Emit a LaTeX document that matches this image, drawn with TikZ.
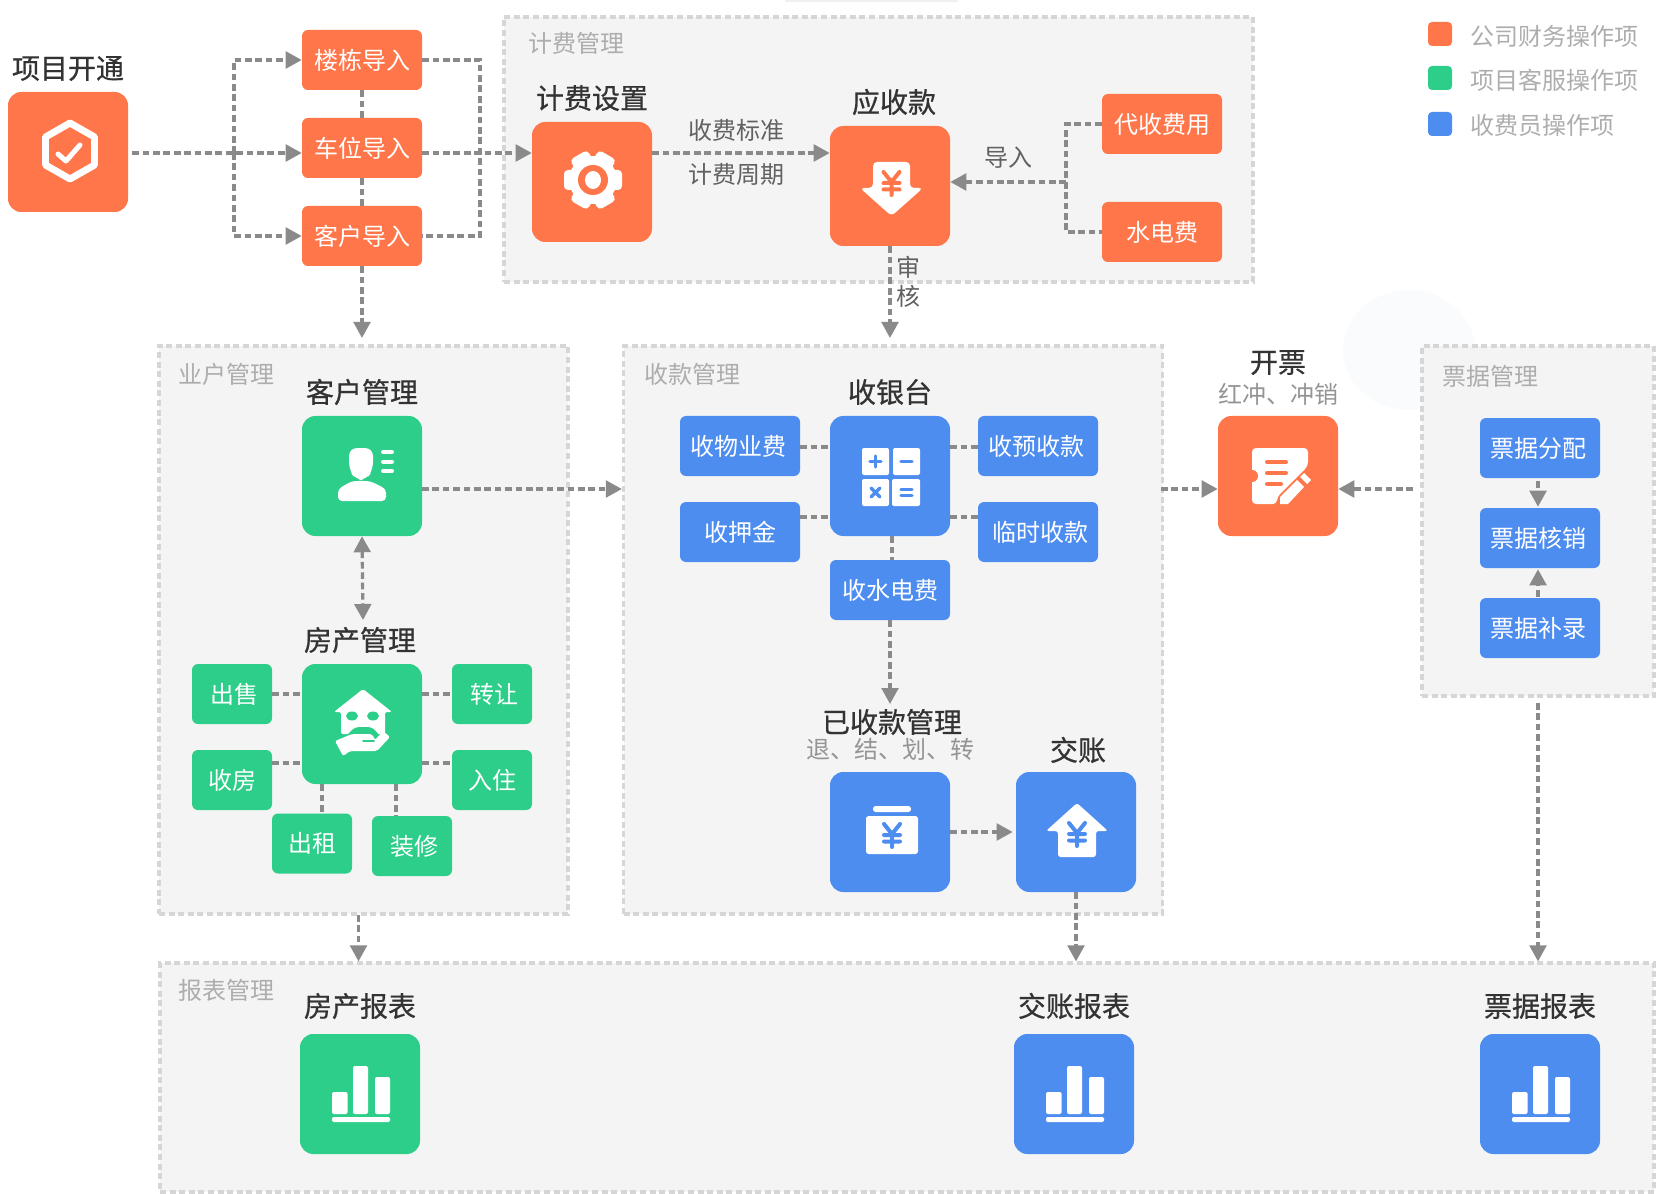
\documentclass[tikz,border=0pt]{standalone}
\usepackage{fontspec}
\usepackage{xcolor}
\usetikzlibrary{arrows.meta, positioning, calc}
\setmainfont{Noto Sans CJK SC}
\newfontfamily\titlefont[FakeBold=0.6]{Noto Sans CJK SC}
\definecolor{boxOrange}{HTML}{FF764A}
\definecolor{boxGreen}{HTML}{2DCE89}
\definecolor{boxBlue}{HTML}{4E8DF0}
\definecolor{lineGrey}{HTML}{8A8A8A}
\definecolor{groupLine}{HTML}{D6D6D6}
\definecolor{groupFill}{HTML}{F4F4F4}
\definecolor{titleDark}{HTML}{333333}
\definecolor{faintBlue}{HTML}{FAFBFD}
\newcommand{\toleft}{\hspace*{-3pt}}

\tikzset{
    yenmark/.pic={
        \draw[line width=3pt, line cap=round, line join=round, pic actions]
            (-8,-11) -- (0,-1) -- (8,-11) (-8,0) -- (8,0) (-8,6.5) -- (8,6.5) (0,-1) -- (0,12);
    },
    barmark/.pic={
        \fill[white, rounded corners=1.5pt] (-28,-2) rectangle (-12.4,20);
        \fill[white, rounded corners=1.5pt] (-7,-28) rectangle (8,20);
        \fill[white, rounded corners=1.5pt] (15,-17) rectangle (30,20);
        \fill[white, rounded corners=1pt] (-28,23) rectangle (30,28);
    }
}

\begin{document}
\begin{tikzpicture}[
        x=0.75pt, y=-0.75pt,
        cjkfont/.style={font=\fontsize{18}{20}\selectfont, text height=15.84pt, text depth=2.16pt, inner sep=0pt},
        bigbox/.style={rectangle, rounded corners=10pt, fill=#1, minimum width=90pt, minimum height=90pt, inner sep=0pt},
        midbox/.style={cjkfont, rectangle, rounded corners=4.5pt, fill=#1, text=white, minimum width=90pt, minimum height=45pt},
        lowbox/.style={cjkfont, rectangle, rounded corners=4.5pt, fill=boxGreen, text=white, minimum width=60pt, minimum height=45pt},
        swatch/.style={rectangle, rounded corners=3pt, fill=#1, minimum width=18pt, minimum height=18pt, inner sep=0pt},
        title/.style={font=\titlefont\fontsize{21}{23}\selectfont, text=titleDark, text height=18.48pt, text depth=2.52pt, inner sep=0pt},
        grouptext/.style={cjkfont, text=black!32},
        greytext/.style={cjkfont, text=black!62},
        subtext/.style={cjkfont, text=black!42},
        groupbox/.style 2 args={rectangle, draw=groupLine, fill=groupFill, line width=2.4pt, dash pattern=on 4.5pt off 2.7pt, minimum width=#1*0.75pt, minimum height=#2*0.75pt, inner sep=0pt},
        dashline/.style={draw=lineGrey, line width=2.4pt, dash pattern=on 5pt off 2.8pt},
        arrow/.style={dashline, -{Triangle[length=12pt, width=12.5pt]}},
        bothway/.style={dashline, {Triangle[length=12pt, width=12.5pt]}-{Triangle[length=12pt, width=12.5pt]}}
    ]
        \useasboundingbox (0,0) rectangle (1656,1194);

        % --- Background marks ---
        \fill[black!6] (785,0) rectangle (958,2);
        \fill[faintBlue] (1409,350) ellipse (66 and 60);

        % --- Groups ---
        \node[groupbox={749}{265}] (jiFeiGrp) at (878.5,149.5) {};
        \node[groupbox={409}{568}] (yeHuGrp) at (363.5,630) {};
        \node[groupbox={539}{568}] (shouKuanGrp) at (893,630) {};
        \node[groupbox={232}{350}] (piaoJuGrp) at (1538,521) {};
        \node[groupbox={1494}{229}] (baoBiaoGrp) at (907,1077.5) {};
        \node[grouptext] (jiFeiTxt) at (576,43) {计费管理};
        \node[grouptext] (yeHuTxt) at (226,374) {业户管理};
        \node[grouptext] (shouKuanTxt) at (692,374) {收款管理};
        \node[grouptext] (piaoJuTxt) at (1490,376) {票据管理};
        \node[grouptext] (baoBiaoTxt) at (226,990) {报表管理};

        % --- Legend ---
        \node[swatch=boxOrange] (lgA) at (1440,34) {};
        \node[swatch=boxGreen] (lgB) at (1440,78) {};
        \node[swatch=boxBlue] (lgC) at (1440,124) {};
        \node[grouptext, anchor=west] (lgAt) at (1470,36) {公司财务操作项};
        \node[grouptext, anchor=west] (lgBt) at (1470,80) {项目客服操作项};
        \node[grouptext, anchor=west] (lgCt) at (1470,125) {收费员操作项};

        % --- Project start and imports ---
        \node[title] (xiangMuT) at (68,68) {项目开通};
        \node[bigbox=boxOrange] (xiangMu) at (68,152) {};
        \node[midbox=boxOrange] (louDong) at (362,60) {楼栋导入};
        \node[midbox=boxOrange] (cheWei) at (362,148) {车位导入};
        \node[midbox=boxOrange] (keDao) at (362,236) {客户导入};

        % --- Billing ---
        \node[title] (jiFeiT) at (592,98) {计费设置};
        \node[bigbox=boxOrange] (jiFei) at (592,182) {};
        \node[title] (yingShouT) at (894,102) {应收款};
        \node[bigbox=boxOrange] (yingShou) at (890,186) {};
        \node[midbox=boxOrange] (daiShou) at (1162,124) {代收费用};
        \node[midbox=boxOrange] (shuiDian) at (1162,232) {水电费};
        \node[greytext] (biaoZhun) at (736,130) {收费标准};
        \node[greytext] (zhouQi) at (736,174) {计费周期};
        \node[greytext] (daoRu) at (1008,157) {导入};
        \node[greytext] (shenT) at (908,267) {审};
        \node[greytext] (heT) at (908,296) {核};

        % --- Owners ---
        \node[title] (keHuT) at (362,392) {客户管理};
        \node[bigbox=boxGreen] (keHu) at (362,476) {};
        \node[title] (fangChanT) at (360,640) {房产管理};
        \node[bigbox=boxGreen] (fangChan) at (362,724) {};
        \node[lowbox] (chuShou) at (232,694) {出售\toleft};
        \node[lowbox] (shouFang) at (232,780) {收房};
        \node[lowbox] (zhuanRang) at (492,694) {转让\toleft};
        \node[lowbox] (ruZhu) at (492,780) {入住};
        \node[lowbox] (chuZu) at (312,843.5) {出租};
        \node[lowbox] (zhuangXiu) at (412,846) {装修\toleft};

        % --- Cashier ---
        \node[title] (shouYinT) at (890,392) {收银台};
        \node[bigbox=boxBlue] (shouYin) at (890,476) {};
        \node[midbox=boxBlue] (wuYe) at (740,446) {\toleft 收物业费};
        \node[midbox=boxBlue] (yaJin) at (740,532) {收押金};
        \node[midbox=boxBlue] (yuShou) at (1038,446) {\toleft 收预收款};
        \node[midbox=boxBlue] (linShi) at (1038,532) {临时收款\toleft};
        \node[midbox=boxBlue] (shuiFei) at (890,590) {收水电费};
        \node[title] (yiShouT) at (892,722) {已收款管理};
        \node[subtext] (yiShouS) at (890,749) {退、结、划、转};
        \node[bigbox=boxBlue] (yiShou) at (890,832) {};
        \node[title] (jiaoZhangT) at (1078,750) {交账};
        \node[bigbox=boxBlue] (jiaoZhang) at (1076,832) {};

        % --- Invoices ---
        \node[title] (kaiPiaoT) at (1278,362) {开票};
        \node[subtext] (kaiPiaoS) at (1278,394) {红冲、冲销};
        \node[bigbox=boxOrange] (kaiPiao) at (1278,476) {};
        \node[midbox=boxBlue] (fenPei) at (1540,448) {\toleft 票据分配};
        \node[midbox=boxBlue] (heXiao) at (1540,538) {\toleft 票据核销};
        \node[midbox=boxBlue] (buLu) at (1540,628) {\toleft 票据补录};

        % --- Reports ---
        \node[title] (fangBaoT) at (360,1006) {房产报表};
        \node[bigbox=boxGreen] (fangBao) at (360,1094) {};
        \node[title] (jiaoBaoT) at (1074,1006) {交账报表};
        \node[bigbox=boxBlue] (jiaoBao) at (1074,1094) {};
        \node[title] (piaoBaoT) at (1540,1006) {票据报表};
        \node[bigbox=boxBlue] (piaoBao) at (1540,1094) {};

        % --- Connectors, top row ---
        \coordinate (midLine) at (234,153);
        \coordinate (busR) at (480,153);
        \draw[arrow, shorten <=3pt] (xiangMu.east |- midLine) -- (cheWei.west |- midLine);
        \draw[arrow] (midLine) -- (midLine |- louDong) -- (louDong.west);
        \draw[arrow] (midLine) -- (midLine |- keDao) -- (keDao.west);
        \draw[dashline] (louDong.south) -- (cheWei.north);
        \draw[dashline] (cheWei.south) -- (keDao.north);
        \draw[dashline] (louDong.east) -- (busR |- louDong) -- (busR |- keDao) -- (keDao.east);
        \draw[arrow] (cheWei.east |- midLine) -- (jiFei.west |- midLine);
        \draw[arrow] (jiFei.east |- midLine) -- (yingShou.west |- midLine);
        \coordinate (busD) at (1066,182);
        \draw[dashline] (daiShou.west) -- (busD |- daiShou) -- (busD |- shuiDian) -- (shuiDian.west);
        \draw[arrow] (busD) -- (yingShou.east |- busD);
        \coordinate (ysDown) at (890,338);
        \draw[arrow] (yingShou.south) -- (ysDown);
        \coordinate (kdDown) at (362,338);
        \draw[arrow] (keDao.south) -- (kdDown);

        % --- Connectors, owners ---
        \coordinate (keOut) at (422,489);
        \draw[arrow] (keOut) -- (shouKuanGrp.west |- keOut);
        \coordinate (fcUp) at (363,620);
        \draw[bothway] (keHu.south) -- (fcUp);
        \coordinate (fcLow) at (302,763);
        \coordinate (fcA) at (322,800);
        \coordinate (fcB) at (396,800);
        \draw[dashline] (chuShou.east) -- (fangChan.west |- chuShou);
        \draw[dashline] (fangChan.east |- zhuanRang) -- (zhuanRang.west);
        \draw[dashline] (fcLow -| shouFang.east) -- (fcLow);
        \draw[dashline] (fangChan.east |- fcLow) -- (fcLow -| ruZhu.west);
        \draw[dashline] (fcA |- fangChan.south) -- (fcA |- chuZu.north);
        \draw[dashline] (fcB |- fangChan.south) -- (fcB |- zhuangXiu.north);
        \coordinate (yhOut) at (358.5,915);
        \draw[arrow] (yhOut) -- (yhOut |- baoBiaoGrp.north);

        % --- Connectors, cashier ---
        \coordinate (syHigh) at (830,447);
        \coordinate (syLow) at (830,517);
        \coordinate (syDown) at (892,540);
        \draw[dashline] (wuYe.east |- syHigh) -- (syHigh);
        \draw[dashline] (yaJin.east |- syLow) -- (syLow);
        \draw[dashline] (shouYin.east |- syHigh) -- (yuShou.west |- syHigh);
        \draw[dashline] (shouYin.east |- syLow) -- (linShi.west |- syLow);
        \draw[dashline] (syDown |- shouYin.south) -- (syDown |- shuiFei.north);
        \coordinate (sfDown) at (890,704);
        \draw[arrow] (shuiFei.south) -- (sfDown);
        \draw[arrow] (yiShou.east) -- ($(jiaoZhang.west)+(-3,0)$);
        \draw[arrow] (jiaoZhang.south) -- (jiaoZhang.south |- baoBiaoGrp.north);

        % --- Connectors, invoices ---
        \coordinate (kpIn) at (1161,489);
        \draw[arrow] (kpIn) -- (kaiPiao.west |- kpIn);
        \coordinate (kpFrom) at (1413,489);
        \draw[arrow] (kpFrom) -- (kaiPiao.east |- kpFrom);
        \draw[arrow] ($(fenPei.south)+(-2,3)$) -- ($(heXiao.north)+(-2,-1)$);
        \draw[arrow] ($(buLu.north)+(-2,-1)$) -- ($(heXiao.south)+(-2,1)$);
        \coordinate (pjOut) at (1538,703);
        \draw[arrow] (pjOut) -- (pjOut |- baoBiaoGrp.north);

        % --- Icons ---
        \draw[white, line width=5.2pt, line join=round] (70,123) -- (94.5,137) -- (94.5,165) -- (70,179) -- (45.5,165) -- (45.5,137) -- cycle;
        \draw[white, line width=3.8pt, line cap=round, line join=round] (58,154) -- (66,161) -- (80,145);

        \begin{scope}[shift={(593,180)}]
            \fill[white] (0,0) circle (24);
            \foreach \a in {0,60,...,300}
                \fill[white, rotate=\a, rounded corners=3pt] (14,-10) rectangle (29,10);
            \fill[boxOrange] (0,0) circle (15);
            \fill[white] (0,0) ellipse (8 and 9);
        \end{scope}

        \fill[white, rounded corners=3pt] (873,162) -- (910,162) -- (910,188) -- (923,188) -- (891.5,216) -- (860,188) -- (873,188) -- cycle;
        \pic[draw=boxOrange] at (891.5,183) {yenmark};

        \fill[white, rounded corners=6pt] (349,448) -- (373,448) -- (373,470) -- (366,480) -- (356,480) -- (349,470) -- cycle;
        \fill[white, rounded corners=3pt] (338,501) -- (338,489) -- (352,481) -- (370,481) -- (386,489) -- (386,501) -- cycle;
        \foreach \yy in {452,461.5,471}
            \draw[white, line width=3pt, line cap=round] (383,\yy) -- (392,\yy);

        \fill[white, rounded corners=1.5pt] (363,689) -- (392,712) -- (385,712) -- (385,734) -- (341,734) -- (341,712) -- (334,712) -- cycle;
        \fill[boxGreen] (352,716) ellipse (6 and 4.5);
        \fill[boxGreen] (373,716) ellipse (6 and 4.5);
        \fill[boxGreen, rounded corners=3pt] (345,737) -- (355,727) -- (372,727) -- (381,737) -- (381,745) -- (345,745) -- cycle;
        \fill[white, rounded corners=1.5pt] (335,741) -- (352,734) -- (372,734) -- (375,740) -- (383,731) -- (390,737) -- (377,751) -- (350,751) -- (343,756) -- cycle;
        \draw[boxGreen, line width=1.5pt, line cap=round] (363,741) -- (374,741);

        \fill[white, rounded corners=1.5pt] (862,448) rectangle (889,475);
        \fill[white, rounded corners=1.5pt] (893,448) rectangle (920,475);
        \fill[white, rounded corners=1.5pt] (862,479) rectangle (889,506);
        \fill[white, rounded corners=1.5pt] (892,479) rectangle (920,506);
        \draw[boxBlue, line width=2.6pt, line cap=round] (870,461.5) -- (881,461.5) (875.5,456) -- (875.5,467);
        \draw[boxBlue, line width=2.6pt, line cap=round] (901,461.5) -- (912,461.5);
        \draw[boxBlue, line width=2.6pt, line cap=round] (871,488) -- (880,497) (880,488) -- (871,497);
        \draw[boxBlue, line width=2.6pt, line cap=round] (901,489.5) -- (912,489.5) (901,495.5) -- (912,495.5);

        \fill[white, rounded corners=2pt] (873,806) rectangle (911,812);
        \fill[white, rounded corners=2pt] (866,816) rectangle (918,854);
        \pic[draw=boxBlue] at (892,835) {yenmark};

        \fill[white, rounded corners=2pt] (1077,803) -- (1108,831) -- (1096,831) -- (1096,857) -- (1058,857) -- (1058,831) -- (1046,831) -- cycle;
        \pic[draw=boxBlue] at (1077,834) {yenmark};

        \fill[white, rounded corners=3pt] (1252,448) -- (1308,448) -- (1308,466) -- (1277,497) -- (1277,504) -- (1252,504) -- cycle;
        \fill[boxOrange] (1252,476) circle (6);
        \draw[boxOrange, line width=3pt, line cap=round] (1267,462) -- (1286,462) (1267,473) -- (1286,473) (1267,484) -- (1281,484);
        \fill[white] (1280,504) -- (1280,497) -- (1297,480) -- (1304,487) -- (1288,504) -- cycle;
        \fill[white] (1300,477) -- (1304,473) -- (1311,480) -- (1307,484) -- cycle;

        \pic at (fangBao) {barmark};
        \pic at (jiaoBao) {barmark};
        \pic at (piaoBao) {barmark};
    \end{tikzpicture}
\end{document}
